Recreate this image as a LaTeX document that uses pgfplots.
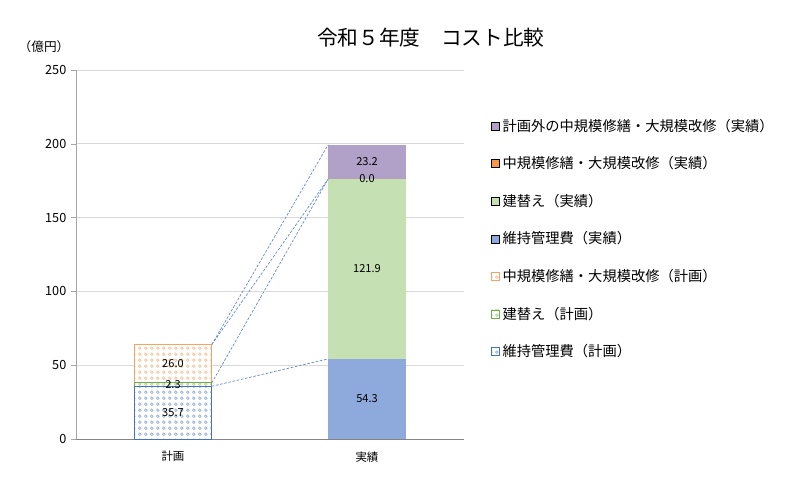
\documentclass[border=0pt]{standalone}
\usepackage{fontspec}
\setmainfont{Noto Sans CJK JP}
\usepackage{pgfplots}
\pgfplotsset{compat=1.18}
\usetikzlibrary{patterns}

\definecolor{planblue}{HTML}{4472C4}
\definecolor{plangreen}{HTML}{70AD47}
\definecolor{planorange}{HTML}{F4A460}
\definecolor{actblue}{HTML}{8EA9DB}
\definecolor{actgreen}{HTML}{C5E0B3}
\definecolor{actorange}{HTML}{F79646}
\definecolor{actpurple}{HTML}{B1A0C7}
\definecolor{gridgray}{HTML}{D9D9D9}
\definecolor{axisgray}{HTML}{A6A6A6}

% white tile with small coloured dots, like the Excel pattern fill
\newcommand\dotpattern[2]{%
  \pgfdeclarepatterninherentlycolored{#1}{\pgfpointorigin}{\pgfqpoint{4.7pt}{4.7pt}}{\pgfqpoint{4.7pt}{4.7pt}}{%
    \pgfsetfillcolor{white}%
    \pgfpathrectangle{\pgfpointorigin}{\pgfqpoint{4.7pt}{4.7pt}}\pgfusepath{fill}%
    \pgfsetfillcolor{#2}%
    \pgfpathcircle{\pgfqpoint{2.35pt}{2.35pt}}{1.5pt}\pgfusepath{fill}%
    \pgfsetfillcolor{white}%
    \pgfpathcircle{\pgfqpoint{2.35pt}{2.35pt}}{0.5pt}\pgfusepath{fill}%
  }}
\dotpattern{bluedots}{planblue!55}
\dotpattern{greendots}{plangreen!55}
\dotpattern{orangedots}{planorange!65}

\pgfplotsset{
  chartbox/.style={
    at={(57pt,30.75pt)}, anchor=south west,
    scale only axis, width=291pt, height=276.75pt,
    xmin=-0.5, xmax=1.5, ymin=0, ymax=250,
  },
  barlabels/.style={
    ybar stacked, bar width=0.4, stacked ignores zero=false,
    nodes near coords={\pgfmathprintnumber[fixed,fixed zerofill,precision=1,assume math mode=true]{\pgfplotspointmeta}},
    every node near coord/.append style={font=\fontsize{8.3}{9}\selectfont, text=black, anchor=center},
  },
  sq legend/.style={legend image code/.code={\draw[##1] (0pt,-3pt) rectangle (6pt,3pt);}},
}

\begin{document}
\begin{tikzpicture}
\fill[white, use as bounding box] (0,0) rectangle (600pt,360pt);

% plan bar, axes and grid
\begin{axis}[
  chartbox, barlabels,
  axis x line*=bottom, axis y line*=left,
  x axis line style={draw=axisgray!80!black},
  y axis line style={draw=axisgray},
  ytick={0,50,...,250},
  xtick={0,1}, xticklabels={計画,実績},
  xtick style={draw=none},
  ytick style={draw=axisgray},
  tick align=outside, major tick length=3.75pt,
  ymajorgrids, grid style={gridgray, line width=0.75pt},
  /pgf/number format/assume math mode=true,
  yticklabel style={font=\fontsize{9.5}{10}\selectfont},
  xticklabel style={font=\fontsize{8.6}{10}\selectfont, yshift=-2pt},
]
\addplot[draw=planblue, line width=0.75pt, pattern=bluedots] coordinates {(0,35.7)};
\addplot[draw=plangreen, line width=0.75pt, pattern=greendots] coordinates {(0,2.3)};
\addplot[draw=planorange, line width=0.75pt, pattern=orangedots] coordinates {(0,26.0)};
\end{axis}

% actual bar and legend
\begin{axis}[
  chartbox, barlabels, hide axis,
  reverse legend,
  legend cell align=left,
  legend style={draw=none, fill=none, at={(1.07,0.875)}, anchor=north west,
    font=\fontsize{10.7}{12}\selectfont, row sep=13.5pt, inner sep=0pt},
]
\addlegendimage{sq legend, draw=planblue, pattern=bluedots}
\addlegendentry{維持管理費（計画）}
\addlegendimage{sq legend, draw=plangreen, pattern=greendots}
\addlegendentry{建替え（計画）}
\addlegendimage{sq legend, draw=planorange, pattern=orangedots}
\addlegendentry{中規模修繕・大規模改修（計画）}
\addplot[sq legend, draw=none, fill=actblue] coordinates {(1,54.3)};
\addlegendentry{維持管理費（実績）}
\addplot[sq legend, draw=none, fill=actgreen] coordinates {(1,121.9)};
\addlegendentry{建替え（実績）}
\addplot[sq legend, draw=none, fill=actorange] coordinates {(1,0.0)};
\addlegendentry{中規模修繕・大規模改修（実績）}
\addplot[sq legend, draw=none, fill=actpurple] coordinates {(1,23.2)};
\addlegendentry{計画外の中規模修繕・大規模改修（実績）}
\end{axis}

% series lines between the bars (cumulative tops)
\begin{axis}[chartbox, hide axis]
\addplot[planblue!85, line width=0.5pt, dash pattern=on 2pt off 1.2pt, mark=none] coordinates {(0.2,35.7) (0.8,54.3)};
\addplot[planblue!85, line width=0.5pt, dash pattern=on 2pt off 1.2pt, mark=none] coordinates {(0.2,38.0) (0.8,176.2)};
\addplot[planblue!85, line width=0.5pt, dash pattern=on 2pt off 1.2pt, mark=none] coordinates {(0.2,64.0) (0.8,176.2)};
\addplot[planblue!85, line width=0.5pt, dash pattern=on 2pt off 1.2pt, mark=none] coordinates {(0.2,64.0) (0.8,199.4)};
\end{axis}

\node[font=\fontsize{15.5}{17}\selectfont] at (323pt,332pt) {令和５年度　コスト比較};
\node[font=\fontsize{9.5}{10}\selectfont] at (33pt,324.75pt) {（億円）};
\end{tikzpicture}
\end{document}
